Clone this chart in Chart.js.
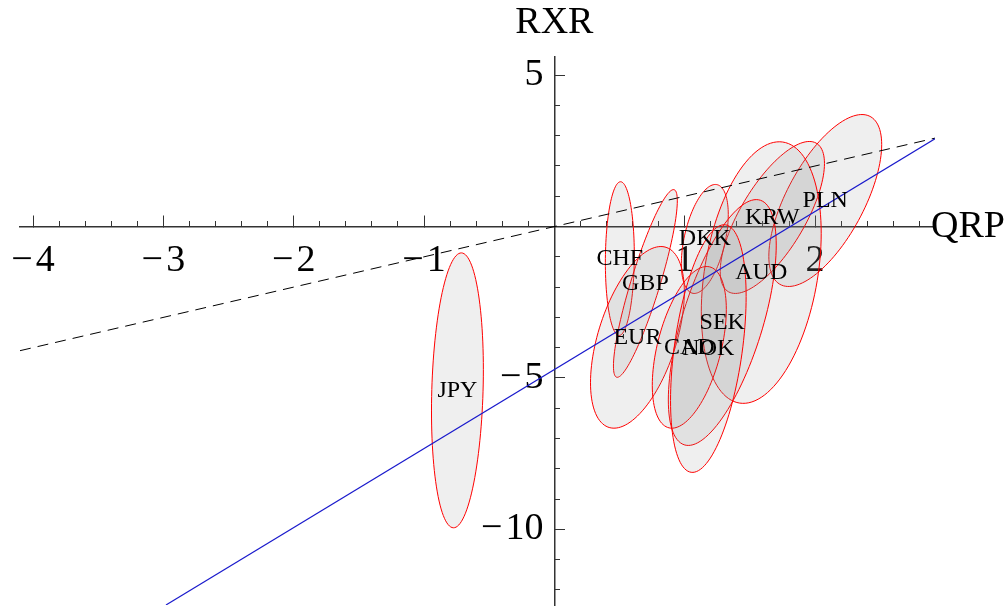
<!DOCTYPE html>
<html>
<head>
<meta charset="utf-8">
<script src="https://cdn.jsdelivr.net/npm/chart.js@4.4.1/dist/chart.umd.min.js"></script>
<style>
  html, body { margin: 0; padding: 0; background: #fff; }
  #wrap { width: 1008px; height: 611px; position: relative; }
</style>
</head>
<body>
<div id="wrap"><canvas id="rxrChart"></canvas></div>
<script>
// QRP vs RXR, one confidence ellipse per currency

const currencies = ['JPY', 'CHF', 'GBP', 'EUR', 'DKK', 'PLN', 'KRW', 'AUD', 'SEK', 'CAD', 'NOK'];
// ellipse centres
const centerQRP = [-0.744, 0.502, 0.698, 0.637, 1.154, 2.078, 1.672, 1.587, 1.288, 1.035, 1.181];
const centerRXR = [-5.41, -1.06, -1.88, -3.66, -0.41, 0.86, 0.30, -1.52, -3.17, -3.99, -4.03];
// half extents along each axis, plus the tilt (correlation)
const halfQRP = [0.199, 0.111, 0.245, 0.36, 0.18, 0.433, 0.40, 0.46, 0.414, 0.284, 0.29];
const halfRXR = [4.54, 2.54, 3.10, 3.00, 1.80, 2.84, 2.51, 4.32, 4.06, 2.67, 4.09];
const corr = [0.15, 0.05, 0.88, 0.5, 0.45, 0.65, 0.71, 0.3, 0.63, 0.47, 0.42];

// fitted line (blue) and 45 degree reference (dashed)
const fitQRP = [-2.98, 2.92];
const fitRXR = [-12.5, 2.90];
const diagQRP = [-4.1, 2.92];
const diagRXR = [-4.1, 2.92];

// tick labels
const xTickLabels = [-4, -3, -2, -1, 1, 2];
const yTickLabels = [-10, -5, 5];

const X_MIN = -4.1, X_MAX = 2.92;
const Y_MIN = -12.5, Y_MAX = 5.6;
const SERIF = '"Liberation Serif", "DejaVu Serif", serif';

function minusLabel(v) {
  return v < 0 ? '\u2212\u200A' + Math.abs(v) : String(v);
}

// minor tick positions, skipping zero
function minorTicks(min, max, step) {
  const out = [];
  for (let v = Math.ceil(min / step); v * step <= max + 1e-9; v++) {
    if (v !== 0) out.push({ value: +(v * step).toFixed(4) });
  }
  return out;
}

function axisScale(axis, min, max, pos, tickList, tickLength, withLabels) {
  return {
    type: 'linear',
    axis: axis,
    min: min,
    max: max,
    position: pos,
    afterBuildTicks: s => { s.ticks = tickList(); },
    // keep the plot area exactly where the padding puts it
    afterFit: s => {
      s.paddingLeft = 0; s.paddingRight = 0;
      s.paddingTop = 0; s.paddingBottom = 0;
    },
    grid: {
      display: true,
      drawOnChartArea: false,
      drawTicks: true,
      tickLength: tickLength,
      tickColor: '#333',
      tickWidth: 1
    },
    border: { display: withLabels, color: '#333', width: 1.5 },
    ticks: {
      autoSkip: false,
      maxRotation: 0,
      minRotation: 0,
      padding: 24,
      color: '#000',
      font: { family: SERIF, size: 38 },
      // y labels sit flush on the axis, so a trailing thin space pushes them off it
      callback: v => withLabels ? minusLabel(v) + (axis === 'y' ? '\u2009\u200A' : '') : ''
    }
  };
}

const ellipsePlugin = {
  id: 'ellipses',
  beforeDatasetsDraw(chart) {
    const { ctx, chartArea, scales } = chart;
    const x = scales.x, y = scales.y;
    ctx.save();
    ctx.beginPath();
    ctx.rect(chartArea.left, chartArea.top, chartArea.width, chartArea.height);
    ctx.clip();
    currencies.forEach((name, i) => {
      const s = Math.sqrt(1 - corr[i] * corr[i]);
      ctx.beginPath();
      for (let k = 0; k <= 120; k++) {
        const t = k / 120 * Math.PI * 2;
        const q = centerQRP[i] + halfQRP[i] * Math.cos(t);
        const r = centerRXR[i] + halfRXR[i] * (corr[i] * Math.cos(t) + s * Math.sin(t));
        const px = x.getPixelForValue(q);
        const py = y.getPixelForValue(r);
        if (k === 0) ctx.moveTo(px, py); else ctx.lineTo(px, py);
      }
      ctx.closePath();
      ctx.fillStyle = 'rgba(128,128,128,0.13)';
      ctx.fill();
      ctx.strokeStyle = '#ff0000';
      ctx.lineWidth = 1;
      ctx.stroke();
    });
    ctx.restore();
  },
  afterDatasetsDraw(chart) {
    const { ctx, scales } = chart;
    ctx.save();
    ctx.fillStyle = '#000';
    ctx.font = '24px ' + SERIF;
    ctx.textAlign = 'center';
    ctx.textBaseline = 'middle';
    currencies.forEach((name, i) => {
      ctx.fillText(name, scales.x.getPixelForValue(centerQRP[i]), scales.y.getPixelForValue(centerRXR[i]));
    });
    ctx.restore();
  },
  afterDraw(chart) {
    const { ctx, chartArea, scales } = chart;
    ctx.save();
    ctx.fillStyle = '#000';
    ctx.font = '38px ' + SERIF;
    ctx.textBaseline = 'middle';
    ctx.textAlign = 'center';
    ctx.fillText('RXR', scales.x.getPixelForValue(0), 23);
    ctx.textAlign = 'left';
    ctx.fillText('QRP', chartArea.right - 4, scales.y.getPixelForValue(0));
    ctx.restore();
  }
};

new Chart(document.getElementById('rxrChart'), {
  type: 'scatter',
  data: {
    datasets: [
      {
        label: 'Fit',
        data: fitQRP.map((q, i) => ({ x: q, y: fitRXR[i] })),
        showLine: true,
        borderColor: '#1a1acc',
        borderWidth: 1.2,
        pointRadius: 0,
        fill: false
      },
      {
        label: '45 degree',
        data: diagQRP.map((q, i) => ({ x: q, y: diagRXR[i] })),
        showLine: true,
        borderColor: '#000',
        borderWidth: 1,
        borderDash: [11, 7],
        pointRadius: 0,
        fill: false
      }
    ]
  },
  options: {
    responsive: true,
    maintainAspectRatio: false,
    animation: false,
    layout: { padding: { left: 20, right: 73, top: 57, bottom: 6 } },
    scales: {
      x: axisScale('x', X_MIN, X_MAX, { y: 0 }, () => xTickLabels.map(v => ({ value: v })), -12, true),
      xMinor: axisScale('x', X_MIN, X_MAX, { y: 0 }, () => minorTicks(X_MIN, X_MAX, 0.2), -6, false),
      y: axisScale('y', Y_MIN, Y_MAX, { x: 0 }, () => yTickLabels.map(v => ({ value: v })), -11, true),
      yMinor: axisScale('y', Y_MIN, Y_MAX, { x: 0 }, () => minorTicks(Y_MIN, Y_MAX, 1), -6, false)
    },
    plugins: {
      legend: { display: false },
      tooltip: { enabled: false }
    }
  },
  plugins: [ellipsePlugin]
});
</script>
</body>
</html>
